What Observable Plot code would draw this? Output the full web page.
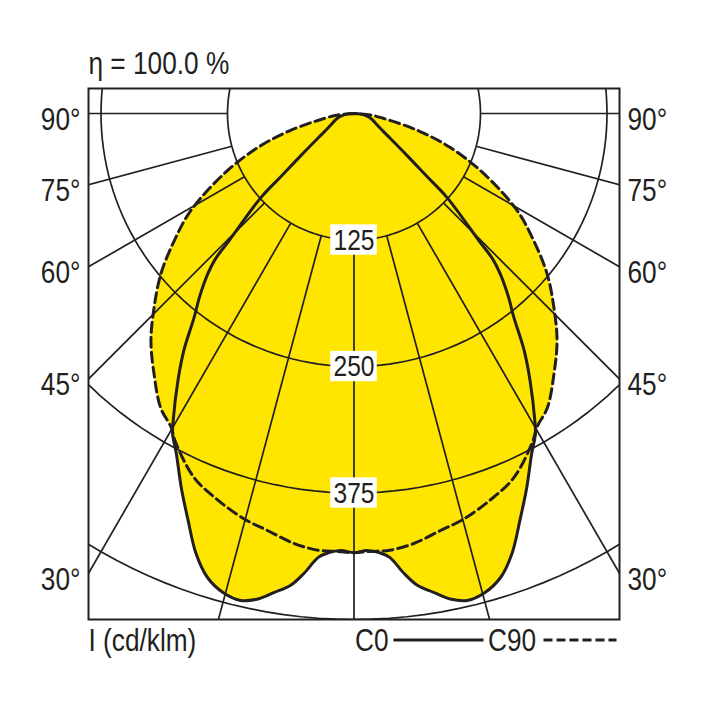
<!DOCTYPE html>
<html><head><meta charset="utf-8">
<script src="https://cdn.jsdelivr.net/npm/d3@7"></script>
<script src="https://cdn.jsdelivr.net/npm/@observablehq/plot@0.6"></script>
<style>
html,body{margin:0;padding:0;background:#fff;}
</style>
</head><body><div id="chart"></div>
<script>
// ---- chart content ----
const efficiencyLabel = "η = 100.0 %";
const unitLabel = "I (cd/klm)";
const seriesNames = ["C0", "C90"];
const ringValues = [125, 250, 375, 500];
const ringLabels = [125, 250, 375];
const spokeAngles = [0, 15, 30, 45, 60, 75, 90];
const angleTickLabels = [90, 75, 60, 45, 30];

// C0 plane (solid): angle from nadir (deg) and intensity (cd/klm)
const c0Angles = [0, 1.7, 3.4, 4.6, 6.2, 7.6, 9.5, 11.2, 13.1, 15.2, 17.5, 19.75, 22.2, 24.8, 27.6, 29.5, 30.5, 33.4, 35.7, 38.1, 40.2, 42.4, 43.6, 44.5, 47.9, 49.2, 51.6, 56.8, 60, 65, 70, 76, 80, 85, 90];
const c0Values = [434, 432, 435, 440, 457, 470, 480, 489, 494, 491, 481, 462, 434, 407, 379, 364, 352, 316, 288, 256, 236, 214, 199, 176, 124, 95, 67, 39, 31, 24, 20, 16, 12, 7, 0];

// C90 plane (dashed)
const c90Angles = [0, 2.1, 4.7, 7.9, 11.65, 15.2, 19.4, 23.7, 28.6, 30.2, 33.3, 37.6, 41.8, 45.9, 50.3, 54.8, 59.2, 65.2, 70.5, 75, 80.5, 85, 90];
const c90Values = [434, 433, 433, 429, 421, 415, 405, 393, 369, 359, 348, 324, 301, 275, 248, 217, 188, 141, 101, 66, 30, 16, 0];

// ---- styling / geometry ----
const ink = "#231f20";
const yellow = "#ffe600";
const font = "'Liberation Sans', Arial, sans-serif";
const narrow = 0.82;           // horizontal condensing of text
const k = 1.012;               // pixels per cd/klm
const W = 265.5 / k;           // half width of frame in cd/klm
const rad = Math.PI / 180;

function outline(angles, values) {
  const pts = [];
  for (let i = angles.length - 1; i >= 0; i--) {
    pts.push({x: -values[i] * Math.sin(angles[i] * rad), y: values[i] * Math.cos(angles[i] * rad)});
  }
  for (let i = 1; i < angles.length; i++) {
    pts.push({x: values[i] * Math.sin(angles[i] * rad), y: values[i] * Math.cos(angles[i] * rad)});
  }
  return pts;
}
const c0Pts = outline(c0Angles, c0Values);
const c90Pts = outline(c90Angles, c90Values);

const ringPts = ringValues.flatMap(r => d3.range(-180, 181, 2).map(a => ({ring: r, x: r * Math.sin(a * rad), y: r * Math.cos(a * rad)})));
const spokes = spokeAngles.flatMap(a => (a === 0 ? [1] : [-1, 1]).map(s => ({
  x1: s * ringValues[0] * Math.sin(a * rad), y1: ringValues[0] * Math.cos(a * rad),
  x2: s * 900 * Math.sin(a * rad), y2: 900 * Math.cos(a * rad)
})));
const edgeY = a => a === 90 ? 0 : W / Math.tan(a * rad);

const plot = Plot.plot({
  width: 708, height: 708,
  marginLeft: 88, marginRight: 89, marginTop: 88, marginBottom: 89,
  x: {domain: [-W, W], axis: null},
  y: {domain: [-25 / k, 506 / k], reverse: true, axis: null},
  style: {fontFamily: font, background: "white", color: ink, overflow: "visible"},
  marks: [
    Plot.line(c90Pts, {x: "x", y: "y", fill: yellow, stroke: "none", curve: "catmull-rom"}),
    Plot.line(c0Pts, {x: "x", y: "y", fill: yellow, stroke: "none", curve: "catmull-rom"}),
    Plot.line(ringPts, {x: "x", y: "y", z: "ring", stroke: ink, strokeWidth: 1.7, clip: "frame"}),
    Plot.link(spokes, {x1: "x1", y1: "y1", x2: "x2", y2: "y2", stroke: ink, strokeWidth: 1.7, clip: "frame"}),
    Plot.line(c90Pts, {x: "x", y: "y", stroke: ink, strokeWidth: 3, strokeDasharray: "10,5", curve: "catmull-rom"}),
    Plot.line(c0Pts, {x: "x", y: "y", stroke: ink, strokeWidth: 3, curve: "catmull-rom"}),
    Plot.rect(ringLabels, {x1: -23, x2: 23, y1: d => d - 15, y2: d => d + 15, fill: "white"}),
    Plot.text(ringLabels, {x: 0, y: d => d, text: d => String(d), fontSize: 30, fill: ink}),
    Plot.frame({stroke: ink, strokeWidth: 2}),
    Plot.text(angleTickLabels, {x: -W, y: edgeY, text: a => a + "°", textAnchor: "end", dx: -8, dy: 6, fontSize: 32, fill: ink}),
    Plot.text(angleTickLabels, {x: W, y: edgeY, text: a => a + "°", textAnchor: "start", dx: 8, dy: 6, fontSize: 32, fill: ink}),
    Plot.text([efficiencyLabel], {frameAnchor: "top-left", text: d => d, textAnchor: "start", lineAnchor: "bottom", dy: -15, fontSize: 32, fill: ink}),
    Plot.text([unitLabel], {frameAnchor: "bottom-left", text: d => d, textAnchor: "start", lineAnchor: "top", dy: 9, fontSize: 32, fill: ink}),
    Plot.text([seriesNames[0]], {frameAnchor: "bottom", text: d => d, textAnchor: "start", lineAnchor: "top", dx: 1, dy: 9, fontSize: 32, fill: ink}),
    Plot.text([seriesNames[1]], {frameAnchor: "bottom", text: d => d, textAnchor: "start", lineAnchor: "top", dx: 134, dy: 9, fontSize: 32, fill: ink})
  ]
});
document.getElementById("chart").appendChild(plot);

const svg = d3.select(plot);
// condense text horizontally (like a condensed grotesque); keep vertical attributes untouched
svg.selectAll("text").each(function() {
  const t = d3.select(this);
  const xa = t.attr("x");
  const x = xa == null ? 0 : parseFloat(xa) || 0;
  const tr = t.attr("transform") || "";
  t.attr("x", null).attr("transform", `${tr} translate(${x},0) scale(${narrow},1)`);
});

// legend line samples
const cx = plot.scale("x").apply(0);
const by = plot.scale("y").apply(506 / k);
svg.append("line").attr("x1", cx + 40).attr("x2", cx + 130).attr("y1", by + 21).attr("y2", by + 21)
  .attr("stroke", ink).attr("stroke-width", 3);
svg.append("line").attr("x1", cx + 190).attr("x2", cx + 263).attr("y1", by + 21).attr("y2", by + 21)
  .attr("stroke", ink).attr("stroke-width", 3).attr("stroke-dasharray", "9,4");
</script>
</body></html>
